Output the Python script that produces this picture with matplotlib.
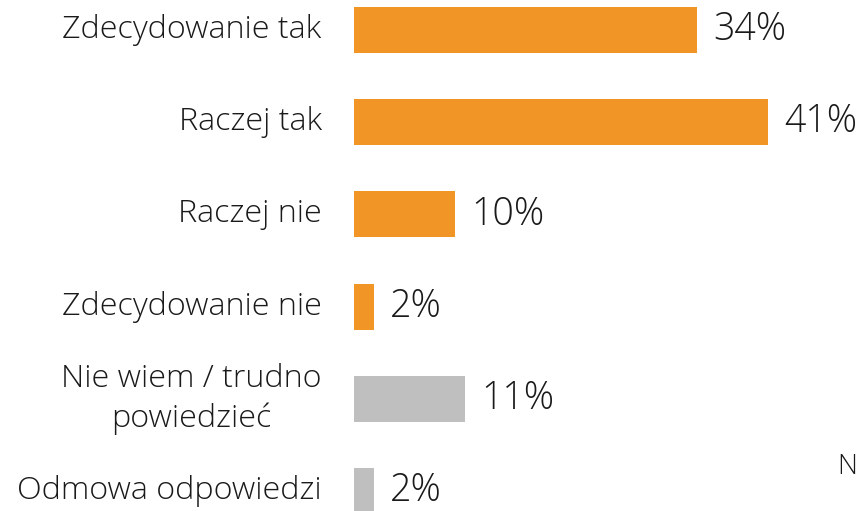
import matplotlib
matplotlib.use("Agg")
import matplotlib.pyplot as plt

categories = ["Zdecydowanie tak", "Raczej tak", "Raczej nie", "Zdecydowanie nie",
              "Nie wiem / trudno\npowiedzieć", "Odmowa odpowiedzi"]
values = [34, 41, 10, 2, 11, 2]
value_labels = ["34%", "41%", "10%", "2%", "11%", "2%"]
bar_colors = ["#F29527"] * 4 + ["#BFBFBF"] * 2

plt.rcParams['font.family'] = ['Open Sans', 'DejaVu Sans']

fig = plt.figure(figsize=(8.59, 5.11), dpi=100)
# axes starts where the bars start, spans full height
ax = fig.add_axes([354 / 859, 0, 500 / 859, 1])

ypos = list(range(len(categories)))
ax.barh(ypos, values, height=0.5, color=bar_colors)
ax.set_xlim(0, 500 / 10.1)
ax.set_ylim((511 - 30) / 92.2, -30 / 92.2)
ax.axis('off')

for y, v, lab in zip(ypos, values, value_labels):
    ax.text(v + 1.6, y, lab, va='center', ha='left', fontsize=27,
            fontweight='light', color='#1a1a1a')

for y, cat in zip(ypos, categories):
    ax.text(-3.2, y, cat, va='center', ha='right', multialignment='center',
            fontsize=23.2, fontweight='light', color='#1a1a1a', linespacing=1.3)

fig.text(837 / 859, 1 - 467 / 511, "N", va='center', ha='left', fontsize=20,
         fontweight='light', color='#1a1a1a')

fig.savefig("out.png", dpi=100)
